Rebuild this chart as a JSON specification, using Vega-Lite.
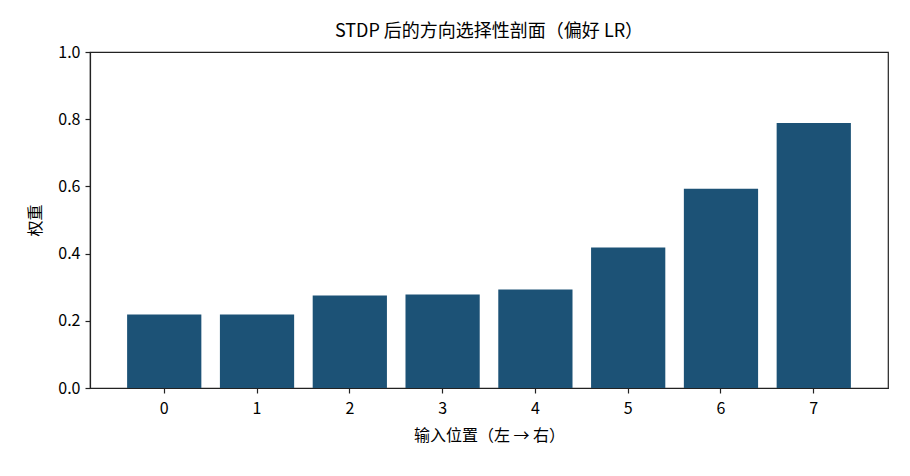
{
  "$schema": "https://vega.github.io/schema/vega-lite/v6.json",
  "autosize": "none",
  "width": 798,
  "height": 336,
  "padding": {"left": 90, "top": 52, "right": 22, "bottom": 88},
  "title": {
    "text": "STDP 后的方向选择性剖面（偏好 LR）",
    "fontSize": 18,
    "fontWeight": "normal",
    "font": "Noto Sans CJK SC",
    "color": "#000",
    "offset": 3
  },
  "data": {
    "values": [
      {"pos": "0", "weight": 0.219},
      {"pos": "1", "weight": 0.219},
      {"pos": "2", "weight": 0.275},
      {"pos": "3", "weight": 0.278},
      {"pos": "4", "weight": 0.293},
      {"pos": "5", "weight": 0.418},
      {"pos": "6", "weight": 0.593},
      {"pos": "7", "weight": 0.789}
    ]
  },
  "mark": {"type": "bar", "color": "#1c5276"},
  "encoding": {
    "x": {
      "field": "pos",
      "type": "ordinal",
      "title": "输入位置（左 → 右）",
      "scale": {"paddingInner": 0.2, "paddingOuter": 0.4},
      "axis": {"labelAngle": 0, "labelPadding": 7, "titlePadding": 11}
    },
    "y": {
      "field": "weight",
      "type": "quantitative",
      "title": "权重",
      "scale": {"domain": [0, 1]},
      "axis": {"values": [0, 0.2, 0.4, 0.6, 0.8, 1.0], "format": ".1f", "titlePadding": 14}
    }
  },
  "config": {
    "font": "Noto Sans CJK SC",
    "view": {"stroke": "#222", "strokeWidth": 1.2},
    "axis": {
      "grid": false,
      "domainColor": "#222",
      "domainWidth": 1.2,
      "tickColor": "#222",
      "tickSize": 5,
      "tickWidth": 1.2,
      "labelFontSize": 16,
      "labelColor": "#000",
      "labelPadding": 5,
      "titleFontSize": 16,
      "titleFontWeight": "normal",
      "titleColor": "#000"
    }
  }
}
